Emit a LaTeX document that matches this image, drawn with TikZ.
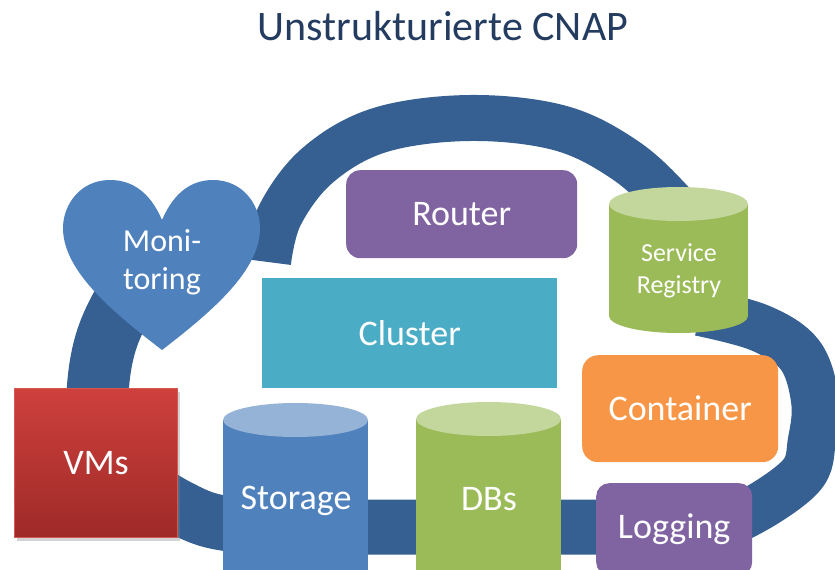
\documentclass[tikz,border=0pt]{standalone}
\usepackage{fontspec}
\setmainfont{Carlito}
\usetikzlibrary{shadows}
\definecolor{band}{RGB}{54,96,146}
\definecolor{heartc}{RGB}{79,129,189}
\definecolor{purplec}{RGB}{128,100,162}
\definecolor{clusterc}{RGB}{75,172,198}
\definecolor{orangec}{RGB}{247,150,70}
\definecolor{greenc}{RGB}{155,187,89}
\definecolor{greentop}{RGB}{195,214,155}
\definecolor{bluetop}{RGB}{149,179,215}
\definecolor{vmtop}{RGB}{206,64,60}
\definecolor{vmbot}{RGB}{158,42,40}
\definecolor{vmborder}{RGB}{214,88,82}
\definecolor{titlec}{RGB}{36,60,96}
\tikzset{
  bandline/.style={draw=band, line cap=butt, line join=round},
  box/.style={anchor=north west, inner sep=0pt, text=white, font=\fontsize{36}{40}\selectfont},
  cyltext/.style={inner sep=0pt, text=white, align=center},
}
\begin{document}
\begin{tikzpicture}[x=1pt,y=-1pt]
\useasboundingbox (0,0) rectangle (835,570);
\clip (0,0) rectangle (835,570);
% title
\node[text=titlec, font=\fontsize{42}{46}\selectfont, inner sep=0pt] (title) at (443,26) {Unstrukturierte CNAP};
% cloud ring
\draw[bandline, line width=62] plot[smooth, tension=0.6] coordinates {(97,480) (97,400) (105,345) (125,300) (152,262)};
\draw[bandline, line width=46] plot[smooth, tension=0.6] coordinates {(268,262) (280,215) (318,165) (380,130) (470,118) (560,128) (625,160) (672,203) (700,240)};
\draw[bandline, line width=48] plot[smooth, tension=0.6] coordinates {(700,312) (760,328) (800,355) (815,400) (812,440) (800,477) (740,517) (690,528)};
\draw[bandline, line width=55] plot[smooth, tension=0.6] coordinates {(700,527) (560,527) (400,527) (300,527) (223,523) (177,506) (120,470)};
% heart
\fill[heartc] (162,220) .. controls (150,192) and (132,180) .. (110,180)
  .. controls (80,180) and (63,205) .. (63,228)
  .. controls (63,270) and (110,310) .. (162,350)
  .. controls (214,310) and (260,270) .. (260,228)
  .. controls (260,205) and (243,180) .. (213,180)
  .. controls (192,180) and (174,192) .. (162,220) -- cycle;
\node[cyltext, font=\fontsize{32}{38}\selectfont] (monitoring) at (162,262) {Moni-\\toring};
% boxes
\node[box, fill=purplec, rounded corners=14, minimum width=231, minimum height=88] (router) at (346,170) {Router};
\node[box, fill=clusterc, minimum width=295, minimum height=110] (cluster) at (262,278) {Cluster};
\node[box, fill=orangec, rounded corners=16, minimum width=196, minimum height=107] (container) at (582,355) {Container};
\node[box, fill=purplec, rounded corners=13, minimum width=156, minimum height=92] (logging) at (596,483) {Logging};
\node[box, top color=vmtop, bottom color=vmbot, draw=vmborder, line width=1, minimum width=163, minimum height=149,
  drop shadow={shadow xshift=2pt, shadow yshift=-3pt, opacity=0.35}] (vms) at (14,388) {VMs};
% Storage cylinder
\fill[heartc] (223,420) rectangle (368,578);
\fill[heartc] (295.5,578) ellipse [x radius=72.5pt, y radius=17pt];
\fill[bluetop] (295.5,420) ellipse [x radius=72.5pt, y radius=17pt];
\node[cyltext, font=\fontsize{36}{40}\selectfont] (storage) at (296,501) {Storage};
% DBs cylinder
\fill[greenc] (416,419) rectangle (561,578);
\fill[greenc] (488.5,578) ellipse [x radius=72.5pt, y radius=17pt];
\fill[greentop] (488.5,419) ellipse [x radius=72.5pt, y radius=17pt];
\node[cyltext, font=\fontsize{36}{40}\selectfont] (dbs) at (489,499) {DBs};
% Service Registry cylinder
\fill[greenc] (609,204) rectangle (748,316);
\fill[greenc] (678.5,316) ellipse [x radius=69.5pt, y radius=17pt];
\fill[greentop] (678.5,204) ellipse [x radius=69.5pt, y radius=17pt];
\node[cyltext, font=\fontsize{26}{32}\selectfont] (registry) at (679,271) {Service\\Registry};
\end{tikzpicture}
\end{document}
